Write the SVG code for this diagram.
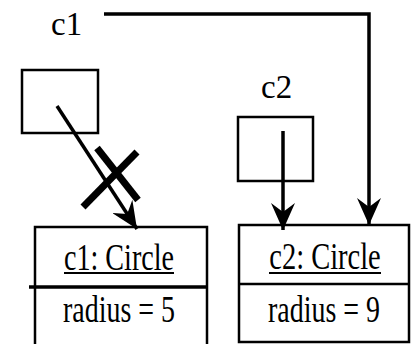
<svg xmlns="http://www.w3.org/2000/svg" width="411" height="344" viewBox="0 0 411 344">
<style>
  .box { fill: none; stroke: #000; stroke-width: 2.5; }
  .conn { fill: none; stroke: #000; stroke-width: 3.5; }
  .lbl { font-family: "Liberation Serif", "Times New Roman", serif; font-size: 34px; fill: #000; }
  .txt { font-family: "Liberation Serif", "Times New Roman", serif; font-size: 37px; fill: #000; text-anchor: middle; }
  .ul { stroke: #000; stroke-width: 2; }
  .cross { stroke: #000; stroke-width: 7; }
</style>
<defs>
  <marker id="arrow" markerUnits="userSpaceOnUse" viewBox="0 0 27 24" markerWidth="27" markerHeight="24" refX="27" refY="12" orient="auto">
    <path d="M0,0 L27,12 L0,24 L9,12 Z" fill="#000"/>
  </marker>
</defs>
<rect x="0" y="0" width="411" height="344" fill="#fff"/>
<g id="var-c1">
  <text class="lbl" transform="translate(51,35) scale(0.97,1)">c1</text>
  <rect class="box" x="22" y="70" width="76" height="63"/>
</g>
<g id="var-c2">
  <text class="lbl" transform="translate(261,98) scale(0.97,1)">c2</text>
  <rect class="box" x="238" y="117" width="75" height="64"/>
</g>
<g id="obj-c1">
  <rect class="box" x="35" y="227" width="172" height="122"/>
  <line class="conn" x1="29" y1="287" x2="207" y2="287"/>
  <text class="txt" transform="translate(119,270) scale(0.76,1)">c1: Circle</text>
  <line class="ul" x1="64" y1="273" x2="174" y2="273"/>
  <text class="txt" transform="translate(119,322) scale(0.755,1)">radius = 5</text>
</g>
<g id="obj-c2">
  <rect class="box" x="239" y="225" width="170" height="117"/>
  <line class="box" x1="239" y1="284" x2="409" y2="284"/>
  <text class="txt" transform="translate(325,269) scale(0.77,1)">c2: Circle</text>
  <line class="ul" x1="269" y1="273" x2="381" y2="273"/>
  <text class="txt" transform="translate(324,322) scale(0.755,1)">radius = 9</text>
</g>
<g id="connectors">
  <line class="conn" x1="57" y1="106" x2="137" y2="229" marker-end="url(#arrow)"/>
  <line class="conn" x1="283" y1="131" x2="283" y2="230" marker-end="url(#arrow)"/>
  <polyline class="conn" points="104,14 369,14 369,225" marker-end="url(#arrow)"/>
  <line class="cross" x1="97" y1="148" x2="138" y2="200"/>
  <line class="cross" x1="137" y1="152" x2="83" y2="207"/>
</g>
</svg>
